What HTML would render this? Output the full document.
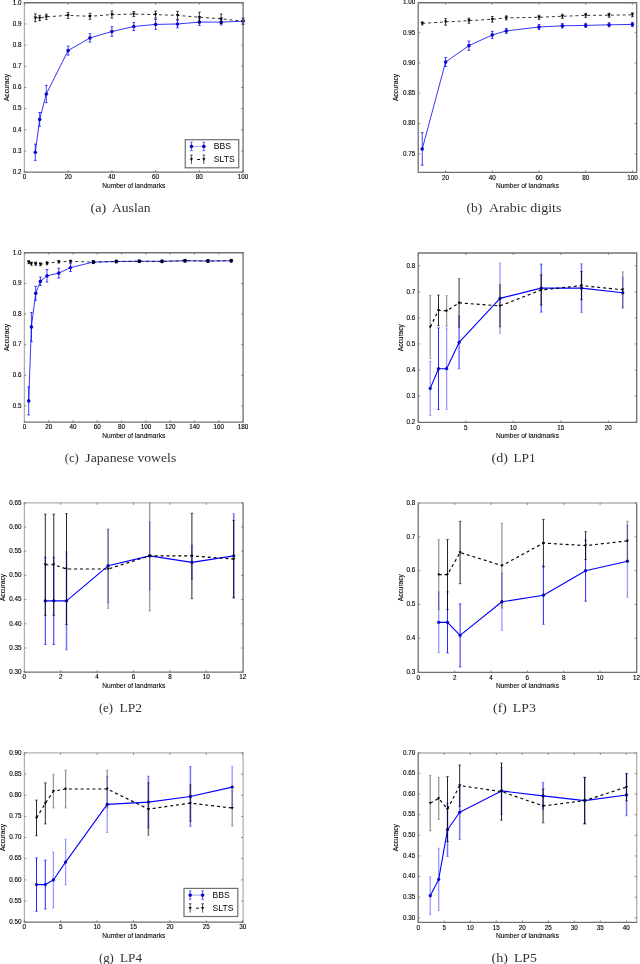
<!DOCTYPE html>
<html><head><meta charset="utf-8"><title>Figure</title>
<style>
html,body{margin:0;padding:0;background:#fff;width:640px;height:964px;overflow:hidden}
svg{display:block}
svg{will-change:transform}
.tk{font-family:"Liberation Sans",sans-serif;font-size:6.3px;fill:#000;stroke:#000;stroke-width:0.12px}
.al{font-family:"Liberation Sans",sans-serif;font-size:6.6px;fill:#000;stroke:#000;stroke-width:0.08px}
.lg{font-family:"Liberation Sans",sans-serif;font-size:8.6px;fill:#000}
.cap{font-family:"Liberation Serif",serif;font-size:13px;fill:#333}
</style></head><body>
<svg width="640" height="964" viewBox="0 0 640 964">
<rect width="640" height="964" fill="#fff"/>
<g>
<clipPath id="clipa"><rect x="20.4" y="2.25" width="226.7" height="170.45"/></clipPath>
<g clip-path="url(#clipa)">
<path d="M35.3 144.15V160.35M34 144.15H36.6M34 160.35H36.6M39.7 112.5V126.3M38.4 112.5H41M38.4 126.3H41M46.3 85.4V102.6M45 85.4H47.6M45 102.6H47.6M68.1 46.1V55.1M66.8 46.1H69.4M66.8 55.1H69.4M90 33.7V42.1M88.7 33.7H91.3M88.7 42.1H91.3M111.9 26.7V36.3M110.6 26.7H113.2M110.6 36.3H113.2M133.8 22.5V30.5M132.5 22.5H135.1M132.5 30.5H135.1M155.6 19.5V29.3M154.3 19.5H156.9M154.3 29.3H156.9M177.5 20.25V27.75M176.2 20.25H178.8M176.2 27.75H178.8M199.4 18.8V25.4M198.1 18.8H200.7M198.1 25.4H200.7M221.2 19.3V24.9M219.9 19.3H222.5M219.9 24.9H222.5M243.1 17.9V24.5M241.8 17.9H244.4M241.8 24.5H244.4" stroke="#0000ff" stroke-width="0.75" fill="none"/>
<polyline points="35.3,152.25 39.7,119.4 46.3,94 68.1,50.6 90,37.9 111.9,31.5 133.8,26.5 155.6,24.4 177.5,24 199.4,22.1 221.2,22.1 243.1,21.2" stroke="#0000ff" stroke-width="0.8" fill="none" stroke-linejoin="round"/>
<circle cx="35.3" cy="152.25" r="1.6" fill="#0000ff" stroke="#000" stroke-width="0.3"/>
<circle cx="39.7" cy="119.4" r="1.6" fill="#0000ff" stroke="#000" stroke-width="0.3"/>
<circle cx="46.3" cy="94" r="1.6" fill="#0000ff" stroke="#000" stroke-width="0.3"/>
<circle cx="68.1" cy="50.6" r="1.6" fill="#0000ff" stroke="#000" stroke-width="0.3"/>
<circle cx="90" cy="37.9" r="1.6" fill="#0000ff" stroke="#000" stroke-width="0.3"/>
<circle cx="111.9" cy="31.5" r="1.6" fill="#0000ff" stroke="#000" stroke-width="0.3"/>
<circle cx="133.8" cy="26.5" r="1.6" fill="#0000ff" stroke="#000" stroke-width="0.3"/>
<circle cx="155.6" cy="24.4" r="1.6" fill="#0000ff" stroke="#000" stroke-width="0.3"/>
<circle cx="177.5" cy="24" r="1.6" fill="#0000ff" stroke="#000" stroke-width="0.3"/>
<circle cx="199.4" cy="22.1" r="1.6" fill="#0000ff" stroke="#000" stroke-width="0.3"/>
<circle cx="221.2" cy="22.1" r="1.6" fill="#0000ff" stroke="#000" stroke-width="0.3"/>
<circle cx="243.1" cy="21.2" r="1.6" fill="#0000ff" stroke="#000" stroke-width="0.3"/>
<path d="M35.3 13.9V21.7M34 13.9H36.6M34 21.7H36.6M39.7 15.3V20.7M38.4 15.3H41M38.4 20.7H41M46.3 14.2V19.4M45 14.2H47.6M45 19.4H47.6M68.1 12.4V18.4M66.8 12.4H69.4M66.8 18.4H69.4M90 13.3V19.3M88.7 13.3H91.3M88.7 19.3H91.3M111.9 11.1V18.1M110.6 11.1H113.2M110.6 18.1H113.2M133.8 11.6V16.6M132.5 11.6H135.1M132.5 16.6H135.1M155.6 11.1V18.1M154.3 11.1H156.9M154.3 18.1H156.9M177.5 11.4V19.4M176.2 11.4H178.8M176.2 19.4H178.8M199.4 12.25V22.25M198.1 12.25H200.7M198.1 22.25H200.7M221.2 14.05V23.45M219.9 14.05H222.5M219.9 23.45H222.5M243.1 18.2V24.2M241.8 18.2H244.4M241.8 24.2H244.4" stroke="#000000" stroke-width="0.75" fill="none"/>
<polyline points="35.3,17.8 39.7,18 46.3,16.8 68.1,15.4 90,16.3 111.9,14.6 133.8,14.1 155.6,14.6 177.5,15.4 199.4,17.25 221.2,18.75 243.1,21.2" stroke="#000000" stroke-width="0.8" fill="none" stroke-dasharray="3 2.9" stroke-linejoin="round"/>
<path d="M33.62 16.46H36.98L35.3 19.48Z" fill="#000000"/>
<path d="M38.02 16.66H41.38L39.7 19.68Z" fill="#000000"/>
<path d="M44.62 15.46H47.98L46.3 18.48Z" fill="#000000"/>
<path d="M66.42 14.06H69.78L68.1 17.08Z" fill="#000000"/>
<path d="M88.32 14.96H91.68L90 17.98Z" fill="#000000"/>
<path d="M110.22 13.26H113.58L111.9 16.28Z" fill="#000000"/>
<path d="M132.12 12.76H135.48L133.8 15.78Z" fill="#000000"/>
<path d="M153.92 13.26H157.28L155.6 16.28Z" fill="#000000"/>
<path d="M175.82 14.06H179.18L177.5 17.08Z" fill="#000000"/>
<path d="M197.72 15.91H201.08L199.4 18.93Z" fill="#000000"/>
<path d="M219.52 17.41H222.88L221.2 20.43Z" fill="#000000"/>
<path d="M241.42 19.86H244.78L243.1 22.88Z" fill="#000000"/>
</g>
<path d="M23.75 2.75H243.75" stroke="#707070" stroke-width="1.3" opacity="1"/>
<path d="M24.4 3.4V171.55" stroke="#707070" stroke-width="1.3" opacity="0.55"/>
<path d="M243.1 3.4V171.55" stroke="#707070" stroke-width="1.3" opacity="1"/>
<path d="M23.75 172.2H243.75" stroke="#707070" stroke-width="1.3" opacity="1"/>
<path d="M24.4 172.2v-2M24.4 2.75v2M68.14 172.2v-2M68.14 2.75v2M111.88 172.2v-2M111.88 2.75v2M155.62 172.2v-2M155.62 2.75v2M199.36 172.2v-2M199.36 2.75v2M243.1 172.2v-2M243.1 2.75v2M24.4 172.2h2M243.1 172.2h-2M24.4 151.02h2M243.1 151.02h-2M24.4 129.84h2M243.1 129.84h-2M24.4 108.66h2M243.1 108.66h-2M24.4 87.48h2M243.1 87.48h-2M24.4 66.3h2M243.1 66.3h-2M24.4 45.12h2M243.1 45.12h-2M24.4 23.94h2M243.1 23.94h-2M24.4 2.76h2M243.1 2.76h-2" stroke="#707070" stroke-width="0.8" fill="none"/>
<text x="24.4" y="179.4" class="tk" text-anchor="middle">0</text>
<text x="68.14" y="179.4" class="tk" text-anchor="middle">20</text>
<text x="111.88" y="179.4" class="tk" text-anchor="middle">40</text>
<text x="155.62" y="179.4" class="tk" text-anchor="middle">60</text>
<text x="199.36" y="179.4" class="tk" text-anchor="middle">80</text>
<text x="243.1" y="179.4" class="tk" text-anchor="middle">100</text>
<text x="21.9" y="174" class="tk" text-anchor="end" dx="-0.4">0.2</text>
<text x="21.9" y="152.82" class="tk" text-anchor="end" dx="-0.4">0.3</text>
<text x="21.9" y="131.64" class="tk" text-anchor="end" dx="-0.4">0.4</text>
<text x="21.9" y="110.46" class="tk" text-anchor="end" dx="-0.4">0.5</text>
<text x="21.9" y="89.28" class="tk" text-anchor="end" dx="-0.4">0.6</text>
<text x="21.9" y="68.1" class="tk" text-anchor="end" dx="-0.4">0.7</text>
<text x="21.9" y="46.92" class="tk" text-anchor="end" dx="-0.4">0.8</text>
<text x="21.9" y="25.74" class="tk" text-anchor="end" dx="-0.4">0.9</text>
<text x="21.9" y="4.56" class="tk" text-anchor="end" dx="-0.4">1.0</text>
<text x="133.75" y="187.5" class="al" text-anchor="middle">Number of landmarks</text>
<text transform="translate(8.8,87.47) rotate(-90)" x="0" y="0" class="al" text-anchor="middle">Accuracy</text>
<rect x="185.25" y="139.7" width="53.5" height="28.1" fill="#fff" stroke="#707070" stroke-width="1.2"/>
<path d="M191.45 146.4H203.85" stroke="#0000ff" stroke-width="0.8" opacity="0.45"/>
<path d="M197.25 159.5H200.05" stroke="#000" stroke-width="1"/>
<path d="M191.45 142.2V150.6M190.15 142.2H192.75M190.15 150.6H192.75" stroke="#0000ff" stroke-width="0.9" opacity="0.7"/>
<circle cx="191.45" cy="146.4" r="1.6" fill="#0000ff" stroke="#000" stroke-width="0.3"/>
<path d="M191.45 155.1V163.9M190.15 155.1H192.75" stroke="#000" stroke-width="0.9" opacity="0.75"/>
<path d="M189.85 158.2H193.05L191.45 161.1Z" fill="#000"/>
<path d="M203.85 142.2V150.6M202.55 142.2H205.15M202.55 150.6H205.15" stroke="#0000ff" stroke-width="0.9" opacity="0.7"/>
<circle cx="203.85" cy="146.4" r="1.6" fill="#0000ff" stroke="#000" stroke-width="0.3"/>
<path d="M203.85 155.1V163.9M202.55 155.1H205.15" stroke="#000" stroke-width="0.9" opacity="0.75"/>
<path d="M202.25 158.2H205.45L203.85 161.1Z" fill="#000"/>
<text x="213.85" y="149" class="lg">BBS</text>
<text x="213.85" y="162.4" class="lg">SLTS</text>
</g>
<text x="90.6" y="211.8" class="cap" textLength="15.65" lengthAdjust="spacingAndGlyphs">(a)</text>
<text x="111.9" y="211.8" class="cap" textLength="38.7" lengthAdjust="spacingAndGlyphs">Auslan</text>
<g>
<clipPath id="clipb"><rect x="414.2" y="2.25" width="226.5" height="170.55"/></clipPath>
<g clip-path="url(#clipb)">
<path d="M422.25 132.65V165.15M420.95 132.65H423.55M420.95 165.15H423.55M445.6 57.5V66.5M444.3 57.5H446.9M444.3 66.5H446.9M468.95 41.1V50.3M467.65 41.1H470.25M467.65 50.3H470.25M492.3 31.4V38.4M491 31.4H493.6M491 38.4H493.6M506.31 28.4V33.4M505.01 28.4H507.61M505.01 33.4H507.61M539 24.5V29.5M537.7 24.5H540.3M537.7 29.5H540.3M562.35 23.6V28M561.05 23.6H563.65M561.05 28H563.65M585.7 23.4V27.4M584.4 23.4H587M584.4 27.4H587M609.05 22.8V26.8M607.75 22.8H610.35M607.75 26.8H610.35M632.4 22.4V26.4M631.1 22.4H633.7M631.1 26.4H633.7" stroke="#0000ff" stroke-width="0.75" fill="none"/>
<polyline points="422.25,148.9 445.6,62 468.95,45.7 492.3,34.9 506.31,30.9 539,27 562.35,25.8 585.7,25.4 609.05,24.8 632.4,24.4" stroke="#0000ff" stroke-width="0.8" fill="none" stroke-linejoin="round"/>
<circle cx="422.25" cy="148.9" r="1.6" fill="#0000ff" stroke="#000" stroke-width="0.3"/>
<circle cx="445.6" cy="62" r="1.6" fill="#0000ff" stroke="#000" stroke-width="0.3"/>
<circle cx="468.95" cy="45.7" r="1.6" fill="#0000ff" stroke="#000" stroke-width="0.3"/>
<circle cx="492.3" cy="34.9" r="1.6" fill="#0000ff" stroke="#000" stroke-width="0.3"/>
<circle cx="506.31" cy="30.9" r="1.6" fill="#0000ff" stroke="#000" stroke-width="0.3"/>
<circle cx="539" cy="27" r="1.6" fill="#0000ff" stroke="#000" stroke-width="0.3"/>
<circle cx="562.35" cy="25.8" r="1.6" fill="#0000ff" stroke="#000" stroke-width="0.3"/>
<circle cx="585.7" cy="25.4" r="1.6" fill="#0000ff" stroke="#000" stroke-width="0.3"/>
<circle cx="609.05" cy="24.8" r="1.6" fill="#0000ff" stroke="#000" stroke-width="0.3"/>
<circle cx="632.4" cy="24.4" r="1.6" fill="#0000ff" stroke="#000" stroke-width="0.3"/>
<path d="M422.25 21.9V24.9M420.95 21.9H423.55M420.95 24.9H423.55M445.6 18.6V25.2M444.3 18.6H446.9M444.3 25.2H446.9M468.95 18.2V23.2M467.65 18.2H470.25M467.65 23.2H470.25M492.3 16.5V22.1M491 16.5H493.6M491 22.1H493.6M506.31 15.9V19.9M505.01 15.9H507.61M505.01 19.9H507.61M539 15.3V19.3M537.7 15.3H540.3M537.7 19.3H540.3M562.35 14.25V18.25M561.05 14.25H563.65M561.05 18.25H563.65M585.7 13.4V17.4M584.4 13.4H587M584.4 17.4H587M609.05 13.2V17.2M607.75 13.2H610.35M607.75 17.2H610.35M632.4 12.8V16.8M631.1 12.8H633.7M631.1 16.8H633.7" stroke="#000000" stroke-width="0.75" fill="none"/>
<polyline points="422.25,23.4 445.6,21.9 468.95,20.7 492.3,19.3 506.31,17.9 539,17.3 562.35,16.25 585.7,15.4 609.05,15.2 632.4,14.8" stroke="#000000" stroke-width="0.8" fill="none" stroke-dasharray="3 2.9" stroke-linejoin="round"/>
<path d="M420.57 22.06H423.93L422.25 25.08Z" fill="#000000"/>
<path d="M443.92 20.56H447.28L445.6 23.58Z" fill="#000000"/>
<path d="M467.27 19.36H470.63L468.95 22.38Z" fill="#000000"/>
<path d="M490.62 17.96H493.98L492.3 20.98Z" fill="#000000"/>
<path d="M504.63 16.56H507.99L506.31 19.58Z" fill="#000000"/>
<path d="M537.32 15.96H540.68L539 18.98Z" fill="#000000"/>
<path d="M560.67 14.91H564.03L562.35 17.93Z" fill="#000000"/>
<path d="M584.02 14.06H587.38L585.7 17.08Z" fill="#000000"/>
<path d="M607.37 13.86H610.73L609.05 16.88Z" fill="#000000"/>
<path d="M630.72 13.46H634.08L632.4 16.48Z" fill="#000000"/>
</g>
<path d="M417.55 2.75H637.35" stroke="#707070" stroke-width="1.3" opacity="1"/>
<path d="M418.2 3.4V171.65" stroke="#707070" stroke-width="1.3" opacity="1"/>
<path d="M636.7 3.4V171.65" stroke="#707070" stroke-width="1.3" opacity="1"/>
<path d="M417.55 172.3H637.35" stroke="#707070" stroke-width="1.3" opacity="1"/>
<path d="M445.6 172.3v-2M445.6 2.75v2M492.3 172.3v-2M492.3 2.75v2M539 172.3v-2M539 2.75v2M585.7 172.3v-2M585.7 2.75v2M632.4 172.3v-2M632.4 2.75v2M418.2 153.8h2M636.7 153.8h-2M418.2 123.53h2M636.7 123.53h-2M418.2 93.26h2M636.7 93.26h-2M418.2 62.99h2M636.7 62.99h-2M418.2 32.72h2M636.7 32.72h-2M418.2 2.45h2M636.7 2.45h-2" stroke="#707070" stroke-width="0.8" fill="none"/>
<text x="445.6" y="179.5" class="tk" text-anchor="middle">20</text>
<text x="492.3" y="179.5" class="tk" text-anchor="middle">40</text>
<text x="539" y="179.5" class="tk" text-anchor="middle">60</text>
<text x="585.7" y="179.5" class="tk" text-anchor="middle">80</text>
<text x="632.4" y="179.5" class="tk" text-anchor="middle">100</text>
<text x="415.7" y="155.6" class="tk" text-anchor="end" dx="-0.4">0.75</text>
<text x="415.7" y="125.33" class="tk" text-anchor="end" dx="-0.4">0.80</text>
<text x="415.7" y="95.06" class="tk" text-anchor="end" dx="-0.4">0.85</text>
<text x="415.7" y="64.79" class="tk" text-anchor="end" dx="-0.4">0.90</text>
<text x="415.7" y="34.52" class="tk" text-anchor="end" dx="-0.4">0.95</text>
<text x="415.7" y="4.25" class="tk" text-anchor="end" dx="-0.4">1.00</text>
<text x="527.45" y="187.6" class="al" text-anchor="middle">Number of landmarks</text>
<text transform="translate(398.4,87.53) rotate(-90)" x="0" y="0" class="al" text-anchor="middle">Accuracy</text>
</g>
<text x="466.5" y="211.8" class="cap" textLength="15.8" lengthAdjust="spacingAndGlyphs">(b)</text>
<text x="488.9" y="211.8" class="cap" textLength="72.5" lengthAdjust="spacingAndGlyphs">Arabic digits</text>
<g>
<clipPath id="clipc"><rect x="20.4" y="252.25" width="226.7" height="170.45"/></clipPath>
<g clip-path="url(#clipc)">
<path d="M28.7 386.9V414.9M27.4 386.9H30M27.4 414.9H30M31.4 312.4V341.4M30.1 312.4H32.7M30.1 341.4H32.7M35.7 286.3V300.3M34.4 286.3H37M34.4 300.3H37M40.4 277.1V285.5M39.1 277.1H41.7M39.1 285.5H41.7M47 269.55V282.05M45.7 269.55H48.3M45.7 282.05H48.3M58.8 268.2V278M57.5 268.2H60.1M57.5 278H60.1M70.5 263.7V271.5M69.2 263.7H71.8M69.2 271.5H71.8M93.3 260.6V263.6M92 260.6H94.6M92 263.6H94.6M116.25 260.3V262.7M114.95 260.3H117.55M114.95 262.7H117.55M139.25 260.05V262.45M137.95 260.05H140.55M137.95 262.45H140.55M162 260.05V262.45M160.7 260.05H163.3M160.7 262.45H163.3M185 259.55V261.95M183.7 259.55H186.3M183.7 261.95H186.3M208 259.8V262.2M206.7 259.8H209.3M206.7 262.2H209.3M231.25 259.55V261.95M229.95 259.55H232.55M229.95 261.95H232.55" stroke="#0000ff" stroke-width="0.75" fill="none"/>
<polyline points="28.7,400.9 31.4,326.9 35.7,293.3 40.4,281.3 47,275.8 58.8,273.1 70.5,267.6 93.3,262.1 116.25,261.5 139.25,261.25 162,261.25 185,260.75 208,261 231.25,260.75" stroke="#0000ff" stroke-width="0.8" fill="none" stroke-linejoin="round"/>
<circle cx="28.7" cy="400.9" r="1.6" fill="#0000ff" stroke="#000" stroke-width="0.3"/>
<circle cx="31.4" cy="326.9" r="1.6" fill="#0000ff" stroke="#000" stroke-width="0.3"/>
<circle cx="35.7" cy="293.3" r="1.6" fill="#0000ff" stroke="#000" stroke-width="0.3"/>
<circle cx="40.4" cy="281.3" r="1.6" fill="#0000ff" stroke="#000" stroke-width="0.3"/>
<circle cx="47" cy="275.8" r="1.6" fill="#0000ff" stroke="#000" stroke-width="0.3"/>
<circle cx="58.8" cy="273.1" r="1.6" fill="#0000ff" stroke="#000" stroke-width="0.3"/>
<circle cx="70.5" cy="267.6" r="1.6" fill="#0000ff" stroke="#000" stroke-width="0.3"/>
<circle cx="93.3" cy="262.1" r="1.6" fill="#0000ff" stroke="#000" stroke-width="0.3"/>
<circle cx="116.25" cy="261.5" r="1.6" fill="#0000ff" stroke="#000" stroke-width="0.3"/>
<circle cx="139.25" cy="261.25" r="1.6" fill="#0000ff" stroke="#000" stroke-width="0.3"/>
<circle cx="162" cy="261.25" r="1.6" fill="#0000ff" stroke="#000" stroke-width="0.3"/>
<circle cx="185" cy="260.75" r="1.6" fill="#0000ff" stroke="#000" stroke-width="0.3"/>
<circle cx="208" cy="261" r="1.6" fill="#0000ff" stroke="#000" stroke-width="0.3"/>
<circle cx="231.25" cy="260.75" r="1.6" fill="#0000ff" stroke="#000" stroke-width="0.3"/>
<path d="M28.7 260.7V263.7M27.4 260.7H30M27.4 263.7H30M31.4 262.2V265.2M30.1 262.2H32.7M30.1 265.2H32.7M35.7 262.2V265.2M34.4 262.2H37M34.4 265.2H37M40.4 262.8V265.8M39.1 262.8H41.7M39.1 265.8H41.7M47 261.8V264.8M45.7 261.8H48.3M45.7 264.8H48.3M58.8 260.6V263M57.5 260.6H60.1M57.5 263H60.1M70.5 260.2V262.6M69.2 260.2H71.8M69.2 262.6H71.8M93.3 260.9V263.3M92 260.9H94.6M92 263.3H94.6M116.25 260.3V262.7M114.95 260.3H117.55M114.95 262.7H117.55M139.25 260.05V262.45M137.95 260.05H140.55M137.95 262.45H140.55M162 260.3V262.7M160.7 260.3H163.3M160.7 262.7H163.3M185 259.55V261.95M183.7 259.55H186.3M183.7 261.95H186.3M208 259.8V262.2M206.7 259.8H209.3M206.7 262.2H209.3M231.25 259.55V261.95M229.95 259.55H232.55M229.95 261.95H232.55" stroke="#000000" stroke-width="0.75" fill="none"/>
<polyline points="28.7,262.2 31.4,263.7 35.7,263.7 40.4,264.3 47,263.3 58.8,261.8 70.5,261.4 93.3,262.1 116.25,261.5 139.25,261.25 162,261.5 185,260.75 208,261 231.25,260.75" stroke="#000000" stroke-width="0.8" fill="none" stroke-dasharray="3 2.9" stroke-linejoin="round"/>
<path d="M27.02 260.86H30.38L28.7 263.88Z" fill="#000000"/>
<path d="M29.72 262.36H33.08L31.4 265.38Z" fill="#000000"/>
<path d="M34.02 262.36H37.38L35.7 265.38Z" fill="#000000"/>
<path d="M38.72 262.96H42.08L40.4 265.98Z" fill="#000000"/>
<path d="M45.32 261.96H48.68L47 264.98Z" fill="#000000"/>
<path d="M57.12 260.46H60.48L58.8 263.48Z" fill="#000000"/>
<path d="M68.82 260.06H72.18L70.5 263.08Z" fill="#000000"/>
<path d="M91.62 260.76H94.98L93.3 263.78Z" fill="#000000"/>
<path d="M114.57 260.16H117.93L116.25 263.18Z" fill="#000000"/>
<path d="M137.57 259.91H140.93L139.25 262.93Z" fill="#000000"/>
<path d="M160.32 260.16H163.68L162 263.18Z" fill="#000000"/>
<path d="M183.32 259.41H186.68L185 262.43Z" fill="#000000"/>
<path d="M206.32 259.66H209.68L208 262.68Z" fill="#000000"/>
<path d="M229.57 259.41H232.93L231.25 262.43Z" fill="#000000"/>
</g>
<path d="M23.75 252.75H243.75" stroke="#707070" stroke-width="1.3" opacity="1"/>
<path d="M24.4 253.4V421.55" stroke="#707070" stroke-width="1.3" opacity="0.55"/>
<path d="M243.1 253.4V421.55" stroke="#707070" stroke-width="1.3" opacity="1"/>
<path d="M23.75 422.2H243.75" stroke="#707070" stroke-width="1.3" opacity="1"/>
<path d="M24.4 422.2v-2M24.4 252.75v2M48.7 422.2v-2M48.7 252.75v2M73 422.2v-2M73 252.75v2M97.3 422.2v-2M97.3 252.75v2M121.6 422.2v-2M121.6 252.75v2M145.9 422.2v-2M145.9 252.75v2M170.2 422.2v-2M170.2 252.75v2M194.5 422.2v-2M194.5 252.75v2M218.8 422.2v-2M218.8 252.75v2M243.1 422.2v-2M243.1 252.75v2M24.4 405.9h2M243.1 405.9h-2M24.4 375.28h2M243.1 375.28h-2M24.4 344.66h2M243.1 344.66h-2M24.4 314.04h2M243.1 314.04h-2M24.4 283.42h2M243.1 283.42h-2M24.4 252.8h2M243.1 252.8h-2" stroke="#707070" stroke-width="0.8" fill="none"/>
<text x="24.4" y="429.4" class="tk" text-anchor="middle">0</text>
<text x="48.7" y="429.4" class="tk" text-anchor="middle">20</text>
<text x="73" y="429.4" class="tk" text-anchor="middle">40</text>
<text x="97.3" y="429.4" class="tk" text-anchor="middle">60</text>
<text x="121.6" y="429.4" class="tk" text-anchor="middle">80</text>
<text x="145.9" y="429.4" class="tk" text-anchor="middle">100</text>
<text x="170.2" y="429.4" class="tk" text-anchor="middle">120</text>
<text x="194.5" y="429.4" class="tk" text-anchor="middle">140</text>
<text x="218.8" y="429.4" class="tk" text-anchor="middle">160</text>
<text x="243.1" y="429.4" class="tk" text-anchor="middle">180</text>
<text x="21.9" y="407.7" class="tk" text-anchor="end" dx="-0.4">0.5</text>
<text x="21.9" y="377.08" class="tk" text-anchor="end" dx="-0.4">0.6</text>
<text x="21.9" y="346.46" class="tk" text-anchor="end" dx="-0.4">0.7</text>
<text x="21.9" y="315.84" class="tk" text-anchor="end" dx="-0.4">0.8</text>
<text x="21.9" y="285.22" class="tk" text-anchor="end" dx="-0.4">0.9</text>
<text x="21.9" y="254.6" class="tk" text-anchor="end" dx="-0.4">1.0</text>
<text x="133.75" y="437.5" class="al" text-anchor="middle">Number of landmarks</text>
<text transform="translate(8.8,337.48) rotate(-90)" x="0" y="0" class="al" text-anchor="middle">Accuracy</text>
</g>
<text x="64.7" y="461.8" class="cap" textLength="14.05" lengthAdjust="spacingAndGlyphs">(c)</text>
<text x="85.3" y="461.8" class="cap" textLength="90.95" lengthAdjust="spacingAndGlyphs">Japanese vowels</text>
<g>
<clipPath id="clipd"><rect x="414.2" y="252.5" width="226.5" height="170.4"/></clipPath>
<g clip-path="url(#clipd)">
<path d="M430.25 361.3V415.5" stroke="#0000ff" stroke-width="1.3" opacity="0.4" fill="none"/>
<path d="M428.85 361.3H431.65M428.85 415.5H431.65" stroke="#0000ff" stroke-width="0.75" opacity="0.3" fill="none"/>
<path d="M438.5 327.9V409.5" stroke="#0000ff" stroke-width="0.85" opacity="1.0" fill="none"/>
<path d="M437.1 327.9H439.9M437.1 409.5H439.9" stroke="#0000ff" stroke-width="0.75" opacity="0.75" fill="none"/>
<path d="M446.6 327.9V409.5" stroke="#0000ff" stroke-width="1.3" opacity="0.4" fill="none"/>
<path d="M445.2 327.9H448M445.2 409.5H448" stroke="#0000ff" stroke-width="0.75" opacity="0.3" fill="none"/>
<path d="M459.1 315.9V368.9" stroke="#0000ff" stroke-width="1.5" opacity="0.55" fill="none"/>
<path d="M457.7 315.9H460.5M457.7 368.9H460.5" stroke="#0000ff" stroke-width="0.75" opacity="0.41" fill="none"/>
<path d="M500 263.2V333.6" stroke="#0000ff" stroke-width="1.3" opacity="0.4" fill="none"/>
<path d="M498.6 263.2H501.4M498.6 333.6H501.4" stroke="#0000ff" stroke-width="0.75" opacity="0.3" fill="none"/>
<path d="M541.2 264.1V312.1" stroke="#0000ff" stroke-width="0.85" opacity="1.0" fill="none"/>
<path d="M539.8 264.1H542.6M539.8 312.1H542.6" stroke="#0000ff" stroke-width="0.75" opacity="0.75" fill="none"/>
<path d="M581.5 263.7V312.5" stroke="#0000ff" stroke-width="1.5" opacity="0.55" fill="none"/>
<path d="M580.1 263.7H582.9M580.1 312.5H582.9" stroke="#0000ff" stroke-width="0.75" opacity="0.41" fill="none"/>
<path d="M622.75 277.15V308.35" stroke="#0000ff" stroke-width="1.3" opacity="0.4" fill="none"/>
<path d="M621.35 277.15H624.15M621.35 308.35H624.15" stroke="#0000ff" stroke-width="0.75" opacity="0.3" fill="none"/>
<polyline points="430.25,388.4 438.5,368.7 446.6,368.7 459.1,342.4 500,298.4 541.2,288.1 581.5,288.1 622.75,292.75" stroke="#0000ff" stroke-width="1.1" fill="none" stroke-linejoin="round"/>
<circle cx="430.25" cy="388.4" r="1.45" fill="#0000ff" stroke="#000" stroke-width="0.3"/>
<circle cx="438.5" cy="368.7" r="1.45" fill="#0000ff" stroke="#000" stroke-width="0.3"/>
<circle cx="446.6" cy="368.7" r="1.45" fill="#0000ff" stroke="#000" stroke-width="0.3"/>
<circle cx="459.1" cy="342.4" r="1.45" fill="#0000ff" stroke="#000" stroke-width="0.3"/>
<circle cx="500" cy="298.4" r="1.45" fill="#0000ff" stroke="#000" stroke-width="0.3"/>
<circle cx="541.2" cy="288.1" r="1.45" fill="#0000ff" stroke="#000" stroke-width="0.3"/>
<circle cx="581.5" cy="288.1" r="1.45" fill="#0000ff" stroke="#000" stroke-width="0.3"/>
<circle cx="622.75" cy="292.75" r="1.45" fill="#0000ff" stroke="#000" stroke-width="0.3"/>
<path d="M430.25 295.3V358.5" stroke="#000000" stroke-width="1.3" opacity="0.4" fill="none"/>
<path d="M428.85 295.3H431.65M428.85 358.5H431.65" stroke="#000000" stroke-width="0.75" opacity="0.3" fill="none"/>
<path d="M438.5 295.1V325.7" stroke="#000000" stroke-width="0.85" opacity="1.0" fill="none"/>
<path d="M437.1 295.1H439.9M437.1 325.7H439.9" stroke="#000000" stroke-width="0.75" opacity="0.75" fill="none"/>
<path d="M446.6 295.6V326.2" stroke="#000000" stroke-width="1.3" opacity="0.4" fill="none"/>
<path d="M445.2 295.6H448M445.2 326.2H448" stroke="#000000" stroke-width="0.75" opacity="0.3" fill="none"/>
<path d="M459.1 278.5V327.3" stroke="#000000" stroke-width="1.5" opacity="0.55" fill="none"/>
<path d="M457.7 278.5H460.5M457.7 327.3H460.5" stroke="#000000" stroke-width="0.75" opacity="0.41" fill="none"/>
<path d="M500 284.8V327" stroke="#000000" stroke-width="1.5" opacity="0.55" fill="none"/>
<path d="M498.6 284.8H501.4M498.6 327H501.4" stroke="#000000" stroke-width="0.75" opacity="0.41" fill="none"/>
<path d="M541.2 275V305" stroke="#000000" stroke-width="0.85" opacity="1.0" fill="none"/>
<path d="M539.8 275H542.6M539.8 305H542.6" stroke="#000000" stroke-width="0.75" opacity="0.75" fill="none"/>
<path d="M581.5 271.6V299.6" stroke="#000000" stroke-width="0.85" opacity="1.0" fill="none"/>
<path d="M580.1 271.6H582.9M580.1 299.6H582.9" stroke="#000000" stroke-width="0.75" opacity="0.75" fill="none"/>
<path d="M622.75 271.75V307.75" stroke="#000000" stroke-width="1.3" opacity="0.4" fill="none"/>
<path d="M621.35 271.75H624.15M621.35 307.75H624.15" stroke="#000000" stroke-width="0.75" opacity="0.3" fill="none"/>
<polyline points="430.25,326.9 438.5,310.4 446.6,310.9 459.1,302.9 500,305.9 541.2,290 581.5,285.6 622.75,289.75" stroke="#000000" stroke-width="1.15" fill="none" stroke-dasharray="3 2.9" stroke-linejoin="round"/>
<path d="M428.73 325.68H431.77L430.25 328.42Z" fill="#000000"/>
<path d="M436.98 309.18H440.02L438.5 311.92Z" fill="#000000"/>
<path d="M445.08 309.68H448.12L446.6 312.42Z" fill="#000000"/>
<path d="M457.58 301.68H460.62L459.1 304.42Z" fill="#000000"/>
<path d="M498.48 304.68H501.52L500 307.42Z" fill="#000000"/>
<path d="M539.68 288.78H542.72L541.2 291.52Z" fill="#000000"/>
<path d="M579.98 284.38H583.02L581.5 287.12Z" fill="#000000"/>
<path d="M621.23 288.53H624.27L622.75 291.27Z" fill="#000000"/>
</g>
<path d="M417.55 253H637.35" stroke="#707070" stroke-width="1.3" opacity="1"/>
<path d="M418.2 253.65V421.75" stroke="#707070" stroke-width="1.3" opacity="1"/>
<path d="M636.7 253.65V421.75" stroke="#707070" stroke-width="1.3" opacity="1"/>
<path d="M417.55 422.4H637.35" stroke="#707070" stroke-width="1.3" opacity="1"/>
<path d="M418.3 422.4v-2M418.3 253v2M465.8 422.4v-2M465.8 253v2M513.3 422.4v-2M513.3 253v2M560.8 422.4v-2M560.8 253v2M608.3 422.4v-2M608.3 253v2M418.2 422.2h2M636.7 422.2h-2M418.2 396.12h2M636.7 396.12h-2M418.2 370.04h2M636.7 370.04h-2M418.2 343.96h2M636.7 343.96h-2M418.2 317.88h2M636.7 317.88h-2M418.2 291.8h2M636.7 291.8h-2M418.2 265.72h2M636.7 265.72h-2" stroke="#707070" stroke-width="0.8" fill="none"/>
<text x="418.3" y="429.6" class="tk" text-anchor="middle">0</text>
<text x="465.8" y="429.6" class="tk" text-anchor="middle">5</text>
<text x="513.3" y="429.6" class="tk" text-anchor="middle">10</text>
<text x="560.8" y="429.6" class="tk" text-anchor="middle">15</text>
<text x="608.3" y="429.6" class="tk" text-anchor="middle">20</text>
<text x="415.7" y="424" class="tk" text-anchor="end" dx="-0.4">0.2</text>
<text x="415.7" y="397.92" class="tk" text-anchor="end" dx="-0.4">0.3</text>
<text x="415.7" y="371.84" class="tk" text-anchor="end" dx="-0.4">0.4</text>
<text x="415.7" y="345.76" class="tk" text-anchor="end" dx="-0.4">0.5</text>
<text x="415.7" y="319.68" class="tk" text-anchor="end" dx="-0.4">0.6</text>
<text x="415.7" y="293.6" class="tk" text-anchor="end" dx="-0.4">0.7</text>
<text x="415.7" y="267.52" class="tk" text-anchor="end" dx="-0.4">0.8</text>
<text x="527.45" y="437.7" class="al" text-anchor="middle">Number of landmarks</text>
<text transform="translate(402.6,337.7) rotate(-90)" x="0" y="0" class="al" text-anchor="middle">Accuracy</text>
</g>
<text x="491.5" y="461.8" class="cap" textLength="16.4" lengthAdjust="spacingAndGlyphs">(d)</text>
<text x="513.4" y="461.8" class="cap" textLength="22.4" lengthAdjust="spacingAndGlyphs">LP1</text>
<g>
<clipPath id="clipe"><rect x="20.4" y="502.3" width="226.7" height="170.4"/></clipPath>
<g clip-path="url(#clipe)">
<path d="M45.3 557.3V644.5" stroke="#0000ff" stroke-width="0.85" opacity="1.0" fill="none"/>
<path d="M43.9 557.3H46.7M43.9 644.5H46.7" stroke="#0000ff" stroke-width="0.75" opacity="0.75" fill="none"/>
<path d="M53.75 557.3V644.5" stroke="#0000ff" stroke-width="0.85" opacity="1.0" fill="none"/>
<path d="M52.35 557.3H55.15M52.35 644.5H55.15" stroke="#0000ff" stroke-width="0.75" opacity="0.75" fill="none"/>
<path d="M66.5 551.9V649.9" stroke="#0000ff" stroke-width="1.5" opacity="0.55" fill="none"/>
<path d="M65.1 551.9H67.9M65.1 649.9H67.9" stroke="#0000ff" stroke-width="0.75" opacity="0.41" fill="none"/>
<path d="M108.1 528.8V602.8" stroke="#0000ff" stroke-width="1.3" opacity="0.4" fill="none"/>
<path d="M106.7 528.8H109.5M106.7 602.8H109.5" stroke="#0000ff" stroke-width="0.75" opacity="0.3" fill="none"/>
<path d="M149.7 522.3V589.5" stroke="#0000ff" stroke-width="1.3" opacity="0.4" fill="none"/>
<path d="M148.3 522.3H151.1M148.3 589.5H151.1" stroke="#0000ff" stroke-width="0.75" opacity="0.3" fill="none"/>
<path d="M191.9 545.4V579.4" stroke="#0000ff" stroke-width="1.5" opacity="0.55" fill="none"/>
<path d="M190.5 545.4H193.3M190.5 579.4H193.3" stroke="#0000ff" stroke-width="0.75" opacity="0.41" fill="none"/>
<path d="M233.7 513.7V598.1" stroke="#0000ff" stroke-width="1.5" opacity="0.55" fill="none"/>
<path d="M232.3 513.7H235.1M232.3 598.1H235.1" stroke="#0000ff" stroke-width="0.75" opacity="0.41" fill="none"/>
<polyline points="45.3,600.9 53.75,600.9 66.5,600.9 108.1,565.8 149.7,555.9 191.9,562.4 233.7,555.9" stroke="#0000ff" stroke-width="1.1" fill="none" stroke-linejoin="round"/>
<circle cx="45.3" cy="600.9" r="1.45" fill="#0000ff" stroke="#000" stroke-width="0.3"/>
<circle cx="53.75" cy="600.9" r="1.45" fill="#0000ff" stroke="#000" stroke-width="0.3"/>
<circle cx="66.5" cy="600.9" r="1.45" fill="#0000ff" stroke="#000" stroke-width="0.3"/>
<circle cx="108.1" cy="565.8" r="1.45" fill="#0000ff" stroke="#000" stroke-width="0.3"/>
<circle cx="149.7" cy="555.9" r="1.45" fill="#0000ff" stroke="#000" stroke-width="0.3"/>
<circle cx="191.9" cy="562.4" r="1.45" fill="#0000ff" stroke="#000" stroke-width="0.3"/>
<circle cx="233.7" cy="555.9" r="1.45" fill="#0000ff" stroke="#000" stroke-width="0.3"/>
<path d="M45.3 514.1V615.3" stroke="#000000" stroke-width="0.85" opacity="1.0" fill="none"/>
<path d="M43.9 514.1H46.7M43.9 615.3H46.7" stroke="#000000" stroke-width="0.75" opacity="0.75" fill="none"/>
<path d="M53.75 514.1V615.3" stroke="#000000" stroke-width="0.85" opacity="1.0" fill="none"/>
<path d="M52.35 514.1H55.15M52.35 615.3H55.15" stroke="#000000" stroke-width="0.75" opacity="0.75" fill="none"/>
<path d="M66.5 513.6V624.4" stroke="#000000" stroke-width="0.85" opacity="1.0" fill="none"/>
<path d="M65.1 513.6H67.9M65.1 624.4H67.9" stroke="#000000" stroke-width="0.75" opacity="0.75" fill="none"/>
<path d="M108.1 529.6V608.4" stroke="#000000" stroke-width="1.3" opacity="0.4" fill="none"/>
<path d="M106.7 529.6H109.5M106.7 608.4H109.5" stroke="#000000" stroke-width="0.75" opacity="0.3" fill="none"/>
<path d="M149.7 500.9V610.9" stroke="#000000" stroke-width="1.3" opacity="0.4" fill="none"/>
<path d="M148.3 500.9H151.1M148.3 610.9H151.1" stroke="#000000" stroke-width="0.75" opacity="0.3" fill="none"/>
<path d="M191.9 513.2V598.6" stroke="#000000" stroke-width="0.85" opacity="1.0" fill="none"/>
<path d="M190.5 513.2H193.3M190.5 598.6H193.3" stroke="#000000" stroke-width="0.75" opacity="0.75" fill="none"/>
<path d="M233.7 520.4V597.8" stroke="#000000" stroke-width="0.85" opacity="1.0" fill="none"/>
<path d="M232.3 520.4H235.1M232.3 597.8H235.1" stroke="#000000" stroke-width="0.75" opacity="0.75" fill="none"/>
<polyline points="45.3,564.7 53.75,564.7 66.5,569 108.1,569 149.7,555.9 191.9,555.9 233.7,559.1" stroke="#000000" stroke-width="1.15" fill="none" stroke-dasharray="3 2.9" stroke-linejoin="round"/>
<path d="M43.78 563.48H46.82L45.3 566.22Z" fill="#000000"/>
<path d="M52.23 563.48H55.27L53.75 566.22Z" fill="#000000"/>
<path d="M64.98 567.78H68.02L66.5 570.52Z" fill="#000000"/>
<path d="M106.58 567.78H109.62L108.1 570.52Z" fill="#000000"/>
<path d="M148.18 554.68H151.22L149.7 557.42Z" fill="#000000"/>
<path d="M190.38 554.68H193.42L191.9 557.42Z" fill="#000000"/>
<path d="M232.18 557.88H235.22L233.7 560.62Z" fill="#000000"/>
</g>
<path d="M23.75 502.8H243.75" stroke="#707070" stroke-width="1.3" opacity="0.55"/>
<path d="M24.4 503.45V671.55" stroke="#707070" stroke-width="1.3" opacity="0.55"/>
<path d="M243.1 503.45V671.55" stroke="#707070" stroke-width="1.3" opacity="1"/>
<path d="M23.75 672.2H243.75" stroke="#707070" stroke-width="1.3" opacity="1"/>
<path d="M24.3 672.2v-2M24.3 502.8v2M60.7 672.2v-2M60.7 502.8v2M97.1 672.2v-2M97.1 502.8v2M133.5 672.2v-2M133.5 502.8v2M169.9 672.2v-2M169.9 502.8v2M206.3 672.2v-2M206.3 502.8v2M242.7 672.2v-2M242.7 502.8v2M24.4 672.2h2M243.1 672.2h-2M24.4 648h2M243.1 648h-2M24.4 623.8h2M243.1 623.8h-2M24.4 599.6h2M243.1 599.6h-2M24.4 575.4h2M243.1 575.4h-2M24.4 551.2h2M243.1 551.2h-2M24.4 527h2M243.1 527h-2M24.4 502.8h2M243.1 502.8h-2" stroke="#707070" stroke-width="0.8" fill="none"/>
<text x="24.3" y="679.4" class="tk" text-anchor="middle">0</text>
<text x="60.7" y="679.4" class="tk" text-anchor="middle">2</text>
<text x="97.1" y="679.4" class="tk" text-anchor="middle">4</text>
<text x="133.5" y="679.4" class="tk" text-anchor="middle">6</text>
<text x="169.9" y="679.4" class="tk" text-anchor="middle">8</text>
<text x="206.3" y="679.4" class="tk" text-anchor="middle">10</text>
<text x="242.7" y="679.4" class="tk" text-anchor="middle">12</text>
<text x="21.9" y="674" class="tk" text-anchor="end" dx="-0.4">0.30</text>
<text x="21.9" y="649.8" class="tk" text-anchor="end" dx="-0.4">0.35</text>
<text x="21.9" y="625.6" class="tk" text-anchor="end" dx="-0.4">0.40</text>
<text x="21.9" y="601.4" class="tk" text-anchor="end" dx="-0.4">0.45</text>
<text x="21.9" y="577.2" class="tk" text-anchor="end" dx="-0.4">0.50</text>
<text x="21.9" y="553" class="tk" text-anchor="end" dx="-0.4">0.55</text>
<text x="21.9" y="528.8" class="tk" text-anchor="end" dx="-0.4">0.60</text>
<text x="21.9" y="504.6" class="tk" text-anchor="end" dx="-0.4">0.65</text>
<text x="133.75" y="687.5" class="al" text-anchor="middle">Number of landmarks</text>
<text transform="translate(4.6,587.5) rotate(-90)" x="0" y="0" class="al" text-anchor="middle">Accuracy</text>
</g>
<text x="98.9" y="711.8" class="cap" textLength="14.1" lengthAdjust="spacingAndGlyphs">(e)</text>
<text x="119.5" y="711.8" class="cap" textLength="22.5" lengthAdjust="spacingAndGlyphs">LP2</text>
<g>
<clipPath id="clipf"><rect x="414.2" y="502.5" width="226.5" height="170.4"/></clipPath>
<g clip-path="url(#clipf)">
<path d="M438.7 591.9V652.9" stroke="#0000ff" stroke-width="1.3" opacity="0.4" fill="none"/>
<path d="M437.3 591.9H440.1M437.3 652.9H440.1" stroke="#0000ff" stroke-width="0.75" opacity="0.3" fill="none"/>
<path d="M447.5 591.9V652.9" stroke="#0000ff" stroke-width="0.85" opacity="1.0" fill="none"/>
<path d="M446.1 591.9H448.9M446.1 652.9H448.9" stroke="#0000ff" stroke-width="0.75" opacity="0.75" fill="none"/>
<path d="M460.1 603.8V667" stroke="#0000ff" stroke-width="0.85" opacity="1.0" fill="none"/>
<path d="M458.7 603.8H461.5M458.7 667H461.5" stroke="#0000ff" stroke-width="0.75" opacity="0.75" fill="none"/>
<path d="M501.9 573.2V630.4" stroke="#0000ff" stroke-width="1.3" opacity="0.4" fill="none"/>
<path d="M500.5 573.2H503.3M500.5 630.4H503.3" stroke="#0000ff" stroke-width="0.75" opacity="0.3" fill="none"/>
<path d="M543.4 566.25V624.25" stroke="#0000ff" stroke-width="0.85" opacity="1.0" fill="none"/>
<path d="M542 566.25H544.8M542 624.25H544.8" stroke="#0000ff" stroke-width="0.75" opacity="0.75" fill="none"/>
<path d="M585.6 540.2V601.2" stroke="#0000ff" stroke-width="0.85" opacity="1.0" fill="none"/>
<path d="M584.2 540.2H587M584.2 601.2H587" stroke="#0000ff" stroke-width="0.75" opacity="0.75" fill="none"/>
<path d="M627.4 525.3V597.3" stroke="#0000ff" stroke-width="1.3" opacity="0.4" fill="none"/>
<path d="M626 525.3H628.8M626 597.3H628.8" stroke="#0000ff" stroke-width="0.75" opacity="0.3" fill="none"/>
<polyline points="438.7,622.4 447.5,622.4 460.1,635.4 501.9,601.8 543.4,595.25 585.6,570.7 627.4,561.3" stroke="#0000ff" stroke-width="1.1" fill="none" stroke-linejoin="round"/>
<circle cx="438.7" cy="622.4" r="1.45" fill="#0000ff" stroke="#000" stroke-width="0.3"/>
<circle cx="447.5" cy="622.4" r="1.45" fill="#0000ff" stroke="#000" stroke-width="0.3"/>
<circle cx="460.1" cy="635.4" r="1.45" fill="#0000ff" stroke="#000" stroke-width="0.3"/>
<circle cx="501.9" cy="601.8" r="1.45" fill="#0000ff" stroke="#000" stroke-width="0.3"/>
<circle cx="543.4" cy="595.25" r="1.45" fill="#0000ff" stroke="#000" stroke-width="0.3"/>
<circle cx="585.6" cy="570.7" r="1.45" fill="#0000ff" stroke="#000" stroke-width="0.3"/>
<circle cx="627.4" cy="561.3" r="1.45" fill="#0000ff" stroke="#000" stroke-width="0.3"/>
<path d="M438.7 539.6V609.6" stroke="#000000" stroke-width="1.3" opacity="0.4" fill="none"/>
<path d="M437.3 539.6H440.1M437.3 609.6H440.1" stroke="#000000" stroke-width="0.75" opacity="0.3" fill="none"/>
<path d="M447.5 539.6V609.6" stroke="#000000" stroke-width="0.85" opacity="1.0" fill="none"/>
<path d="M446.1 539.6H448.9M446.1 609.6H448.9" stroke="#000000" stroke-width="0.75" opacity="0.75" fill="none"/>
<path d="M460.1 521.3V583.7" stroke="#000000" stroke-width="0.85" opacity="1.0" fill="none"/>
<path d="M458.7 521.3H461.5M458.7 583.7H461.5" stroke="#000000" stroke-width="0.75" opacity="0.75" fill="none"/>
<path d="M501.9 523.1V608.1" stroke="#000000" stroke-width="1.3" opacity="0.4" fill="none"/>
<path d="M500.5 523.1H503.3M500.5 608.1H503.3" stroke="#000000" stroke-width="0.75" opacity="0.3" fill="none"/>
<path d="M543.4 519.4V566.8" stroke="#000000" stroke-width="0.85" opacity="1.0" fill="none"/>
<path d="M542 519.4H544.8M542 566.8H544.8" stroke="#000000" stroke-width="0.75" opacity="0.75" fill="none"/>
<path d="M585.6 531.7V559.5" stroke="#000000" stroke-width="0.85" opacity="1.0" fill="none"/>
<path d="M584.2 531.7H587M584.2 559.5H587" stroke="#000000" stroke-width="0.75" opacity="0.75" fill="none"/>
<path d="M627.4 521.2V560.6" stroke="#000000" stroke-width="1.3" opacity="0.4" fill="none"/>
<path d="M626 521.2H628.8M626 560.6H628.8" stroke="#000000" stroke-width="0.75" opacity="0.3" fill="none"/>
<polyline points="438.7,574.6 447.5,574.6 460.1,552.5 501.9,565.6 543.4,543.1 585.6,545.6 627.4,540.9" stroke="#000000" stroke-width="1.15" fill="none" stroke-dasharray="3 2.9" stroke-linejoin="round"/>
<path d="M437.18 573.38H440.22L438.7 576.12Z" fill="#000000"/>
<path d="M445.98 573.38H449.02L447.5 576.12Z" fill="#000000"/>
<path d="M458.58 551.28H461.62L460.1 554.02Z" fill="#000000"/>
<path d="M500.38 564.38H503.42L501.9 567.12Z" fill="#000000"/>
<path d="M541.88 541.88H544.92L543.4 544.62Z" fill="#000000"/>
<path d="M584.08 544.38H587.12L585.6 547.12Z" fill="#000000"/>
<path d="M625.88 539.68H628.92L627.4 542.42Z" fill="#000000"/>
</g>
<path d="M417.55 503H637.35" stroke="#707070" stroke-width="1.3" opacity="0.55"/>
<path d="M418.2 503.65V671.75" stroke="#707070" stroke-width="1.3" opacity="1"/>
<path d="M636.7 503.65V671.75" stroke="#707070" stroke-width="1.3" opacity="1"/>
<path d="M417.55 672.4H637.35" stroke="#707070" stroke-width="1.3" opacity="1"/>
<path d="M418.3 672.4v-2M418.3 503v2M454.65 672.4v-2M454.65 503v2M491 672.4v-2M491 503v2M527.35 672.4v-2M527.35 503v2M563.7 672.4v-2M563.7 503v2M600.05 672.4v-2M600.05 503v2M636.4 672.4v-2M636.4 503v2M418.2 672.2h2M636.7 672.2h-2M418.2 638.34h2M636.7 638.34h-2M418.2 604.48h2M636.7 604.48h-2M418.2 570.62h2M636.7 570.62h-2M418.2 536.76h2M636.7 536.76h-2M418.2 502.9h2M636.7 502.9h-2" stroke="#707070" stroke-width="0.8" fill="none"/>
<text x="418.3" y="679.6" class="tk" text-anchor="middle">0</text>
<text x="454.65" y="679.6" class="tk" text-anchor="middle">2</text>
<text x="491" y="679.6" class="tk" text-anchor="middle">4</text>
<text x="527.35" y="679.6" class="tk" text-anchor="middle">6</text>
<text x="563.7" y="679.6" class="tk" text-anchor="middle">8</text>
<text x="600.05" y="679.6" class="tk" text-anchor="middle">10</text>
<text x="636.4" y="679.6" class="tk" text-anchor="middle">12</text>
<text x="415.7" y="674" class="tk" text-anchor="end" dx="-0.4">0.3</text>
<text x="415.7" y="640.14" class="tk" text-anchor="end" dx="-0.4">0.4</text>
<text x="415.7" y="606.28" class="tk" text-anchor="end" dx="-0.4">0.5</text>
<text x="415.7" y="572.42" class="tk" text-anchor="end" dx="-0.4">0.6</text>
<text x="415.7" y="538.56" class="tk" text-anchor="end" dx="-0.4">0.7</text>
<text x="415.7" y="504.7" class="tk" text-anchor="end" dx="-0.4">0.8</text>
<text x="527.45" y="687.7" class="al" text-anchor="middle">Number of landmarks</text>
<text transform="translate(402.6,587.7) rotate(-90)" x="0" y="0" class="al" text-anchor="middle">Accuracy</text>
</g>
<text x="493.1" y="711.8" class="cap" textLength="13.7" lengthAdjust="spacingAndGlyphs">(f)</text>
<text x="512.8" y="711.8" class="cap" textLength="23" lengthAdjust="spacingAndGlyphs">LP3</text>
<g>
<clipPath id="clipg"><rect x="20.4" y="752.3" width="226.7" height="170.4"/></clipPath>
<g clip-path="url(#clipg)">
<path d="M36.5 857.9V911.3" stroke="#0000ff" stroke-width="0.85" opacity="1.0" fill="none"/>
<path d="M35.1 857.9H37.9M35.1 911.3H37.9" stroke="#0000ff" stroke-width="0.75" opacity="0.75" fill="none"/>
<path d="M45.3 860.2V909" stroke="#0000ff" stroke-width="0.85" opacity="1.0" fill="none"/>
<path d="M43.9 860.2H46.7M43.9 909H46.7" stroke="#0000ff" stroke-width="0.75" opacity="0.75" fill="none"/>
<path d="M53.4 852V908" stroke="#0000ff" stroke-width="1.3" opacity="0.4" fill="none"/>
<path d="M52 852H54.8M52 908H54.8" stroke="#0000ff" stroke-width="0.75" opacity="0.3" fill="none"/>
<path d="M65.6 839.2V885" stroke="#0000ff" stroke-width="1.3" opacity="0.4" fill="none"/>
<path d="M64.2 839.2H67M64.2 885H67" stroke="#0000ff" stroke-width="0.75" opacity="0.3" fill="none"/>
<path d="M107.2 776.3V832.5" stroke="#0000ff" stroke-width="1.3" opacity="0.4" fill="none"/>
<path d="M105.8 776.3H108.6M105.8 832.5H108.6" stroke="#0000ff" stroke-width="0.75" opacity="0.3" fill="none"/>
<path d="M148.4 776.1V828.1" stroke="#0000ff" stroke-width="1.5" opacity="0.55" fill="none"/>
<path d="M147 776.1H149.8M147 828.1H149.8" stroke="#0000ff" stroke-width="0.75" opacity="0.41" fill="none"/>
<path d="M190.4 766.5V826.5" stroke="#0000ff" stroke-width="1.5" opacity="0.55" fill="none"/>
<path d="M189 766.5H191.8M189 826.5H191.8" stroke="#0000ff" stroke-width="0.75" opacity="0.41" fill="none"/>
<path d="M232.2 766.5V807.7" stroke="#0000ff" stroke-width="1.3" opacity="0.4" fill="none"/>
<path d="M230.8 766.5H233.6M230.8 807.7H233.6" stroke="#0000ff" stroke-width="0.75" opacity="0.3" fill="none"/>
<polyline points="36.5,884.6 45.3,884.6 53.4,880 65.6,862.1 107.2,804.4 148.4,802.1 190.4,796.5 232.2,787.1" stroke="#0000ff" stroke-width="1.1" fill="none" stroke-linejoin="round"/>
<circle cx="36.5" cy="884.6" r="1.45" fill="#0000ff" stroke="#000" stroke-width="0.3"/>
<circle cx="45.3" cy="884.6" r="1.45" fill="#0000ff" stroke="#000" stroke-width="0.3"/>
<circle cx="53.4" cy="880" r="1.45" fill="#0000ff" stroke="#000" stroke-width="0.3"/>
<circle cx="65.6" cy="862.1" r="1.45" fill="#0000ff" stroke="#000" stroke-width="0.3"/>
<circle cx="107.2" cy="804.4" r="1.45" fill="#0000ff" stroke="#000" stroke-width="0.3"/>
<circle cx="148.4" cy="802.1" r="1.45" fill="#0000ff" stroke="#000" stroke-width="0.3"/>
<circle cx="190.4" cy="796.5" r="1.45" fill="#0000ff" stroke="#000" stroke-width="0.3"/>
<circle cx="232.2" cy="787.1" r="1.45" fill="#0000ff" stroke="#000" stroke-width="0.3"/>
<path d="M36.5 800.1V835.7" stroke="#000000" stroke-width="0.85" opacity="1.0" fill="none"/>
<path d="M35.1 800.1H37.9M35.1 835.7H37.9" stroke="#000000" stroke-width="0.75" opacity="0.75" fill="none"/>
<path d="M45.3 782.9V823.9" stroke="#000000" stroke-width="0.85" opacity="1.0" fill="none"/>
<path d="M43.9 782.9H46.7M43.9 823.9H46.7" stroke="#000000" stroke-width="0.75" opacity="0.75" fill="none"/>
<path d="M53.4 774.45V808.05" stroke="#000000" stroke-width="1.3" opacity="0.4" fill="none"/>
<path d="M52 774.45H54.8M52 808.05H54.8" stroke="#000000" stroke-width="0.75" opacity="0.3" fill="none"/>
<path d="M65.6 769.9V808.1" stroke="#000000" stroke-width="1.3" opacity="0.4" fill="none"/>
<path d="M64.2 769.9H67M64.2 808.1H67" stroke="#000000" stroke-width="0.75" opacity="0.3" fill="none"/>
<path d="M107.2 770V808" stroke="#000000" stroke-width="1.3" opacity="0.4" fill="none"/>
<path d="M105.8 770H108.6M105.8 808H108.6" stroke="#000000" stroke-width="0.75" opacity="0.3" fill="none"/>
<path d="M148.4 782.85V835.35" stroke="#000000" stroke-width="1.5" opacity="0.55" fill="none"/>
<path d="M147 782.85H149.8M147 835.35H149.8" stroke="#000000" stroke-width="0.75" opacity="0.41" fill="none"/>
<path d="M190.4 784.8V821.4" stroke="#000000" stroke-width="1.5" opacity="0.55" fill="none"/>
<path d="M189 784.8H191.8M189 821.4H191.8" stroke="#000000" stroke-width="0.75" opacity="0.41" fill="none"/>
<path d="M232.2 790.1V826.1" stroke="#000000" stroke-width="1.3" opacity="0.4" fill="none"/>
<path d="M230.8 790.1H233.6M230.8 826.1H233.6" stroke="#000000" stroke-width="0.75" opacity="0.3" fill="none"/>
<polyline points="36.5,817.9 45.3,803.4 53.4,791.25 65.6,789 107.2,789 148.4,809.1 190.4,803.1 232.2,808.1" stroke="#000000" stroke-width="1.15" fill="none" stroke-dasharray="3 2.9" stroke-linejoin="round"/>
<path d="M34.98 816.68H38.02L36.5 819.42Z" fill="#000000"/>
<path d="M43.78 802.18H46.82L45.3 804.92Z" fill="#000000"/>
<path d="M51.88 790.03H54.92L53.4 792.77Z" fill="#000000"/>
<path d="M64.08 787.78H67.12L65.6 790.52Z" fill="#000000"/>
<path d="M105.68 787.78H108.72L107.2 790.52Z" fill="#000000"/>
<path d="M146.88 807.88H149.92L148.4 810.62Z" fill="#000000"/>
<path d="M188.88 801.88H191.92L190.4 804.62Z" fill="#000000"/>
<path d="M230.68 806.88H233.72L232.2 809.62Z" fill="#000000"/>
</g>
<path d="M23.75 752.8H243.75" stroke="#707070" stroke-width="1.3" opacity="0.55"/>
<path d="M24.4 753.45V921.55" stroke="#707070" stroke-width="1.3" opacity="0.55"/>
<path d="M243.1 753.45V921.55" stroke="#707070" stroke-width="1.3" opacity="0.55"/>
<path d="M23.75 922.2H243.75" stroke="#707070" stroke-width="1.3" opacity="1"/>
<path d="M24.3 922.2v-2M24.3 752.8v2M60.7 922.2v-2M60.7 752.8v2M97.1 922.2v-2M97.1 752.8v2M133.5 922.2v-2M133.5 752.8v2M169.9 922.2v-2M169.9 752.8v2M206.3 922.2v-2M206.3 752.8v2M242.7 922.2v-2M242.7 752.8v2M24.4 922.2h2M243.1 922.2h-2M24.4 901.03h2M243.1 901.03h-2M24.4 879.86h2M243.1 879.86h-2M24.4 858.69h2M243.1 858.69h-2M24.4 837.52h2M243.1 837.52h-2M24.4 816.35h2M243.1 816.35h-2M24.4 795.18h2M243.1 795.18h-2M24.4 774.01h2M243.1 774.01h-2M24.4 752.84h2M243.1 752.84h-2" stroke="#707070" stroke-width="0.8" fill="none"/>
<text x="24.3" y="929.4" class="tk" text-anchor="middle">0</text>
<text x="60.7" y="929.4" class="tk" text-anchor="middle">5</text>
<text x="97.1" y="929.4" class="tk" text-anchor="middle">10</text>
<text x="133.5" y="929.4" class="tk" text-anchor="middle">15</text>
<text x="169.9" y="929.4" class="tk" text-anchor="middle">20</text>
<text x="206.3" y="929.4" class="tk" text-anchor="middle">25</text>
<text x="242.7" y="929.4" class="tk" text-anchor="middle">30</text>
<text x="21.9" y="924" class="tk" text-anchor="end" dx="-0.4">0.50</text>
<text x="21.9" y="902.83" class="tk" text-anchor="end" dx="-0.4">0.55</text>
<text x="21.9" y="881.66" class="tk" text-anchor="end" dx="-0.4">0.60</text>
<text x="21.9" y="860.49" class="tk" text-anchor="end" dx="-0.4">0.65</text>
<text x="21.9" y="839.32" class="tk" text-anchor="end" dx="-0.4">0.70</text>
<text x="21.9" y="818.15" class="tk" text-anchor="end" dx="-0.4">0.75</text>
<text x="21.9" y="796.98" class="tk" text-anchor="end" dx="-0.4">0.80</text>
<text x="21.9" y="775.81" class="tk" text-anchor="end" dx="-0.4">0.85</text>
<text x="21.9" y="754.64" class="tk" text-anchor="end" dx="-0.4">0.90</text>
<text x="133.75" y="937.5" class="al" text-anchor="middle">Number of landmarks</text>
<text transform="translate(4.6,837.5) rotate(-90)" x="0" y="0" class="al" text-anchor="middle">Accuracy</text>
<rect x="184" y="888.4" width="53.8" height="28.1" fill="#fff" stroke="#707070" stroke-width="1.2"/>
<path d="M190.2 895.1H202.6" stroke="#0000ff" stroke-width="0.8" opacity="0.45"/>
<path d="M196 908.2H198.8" stroke="#000" stroke-width="1"/>
<path d="M190.2 890.9V899.3M188.9 890.9H191.5M188.9 899.3H191.5" stroke="#0000ff" stroke-width="0.9" opacity="0.7"/>
<circle cx="190.2" cy="895.1" r="1.6" fill="#0000ff" stroke="#000" stroke-width="0.3"/>
<path d="M190.2 903.8V912.6M188.9 903.8H191.5" stroke="#000" stroke-width="0.9" opacity="0.75"/>
<path d="M188.6 906.9H191.8L190.2 909.8Z" fill="#000"/>
<path d="M202.6 890.9V899.3M201.3 890.9H203.9M201.3 899.3H203.9" stroke="#0000ff" stroke-width="0.9" opacity="0.7"/>
<circle cx="202.6" cy="895.1" r="1.6" fill="#0000ff" stroke="#000" stroke-width="0.3"/>
<path d="M202.6 903.8V912.6M201.3 903.8H203.9" stroke="#000" stroke-width="0.9" opacity="0.75"/>
<path d="M201 906.9H204.2L202.6 909.8Z" fill="#000"/>
<text x="212.6" y="897.7" class="lg">BBS</text>
<text x="212.6" y="911.1" class="lg">SLTS</text>
</g>
<text x="98.9" y="961.8" class="cap" textLength="15" lengthAdjust="spacingAndGlyphs">(g)</text>
<text x="120" y="961.8" class="cap" textLength="22" lengthAdjust="spacingAndGlyphs">LP4</text>
<g>
<clipPath id="cliph"><rect x="414.2" y="752.5" width="226.5" height="170.4"/></clipPath>
<g clip-path="url(#cliph)">
<path d="M430.25 876.7V914.7" stroke="#0000ff" stroke-width="1.3" opacity="0.4" fill="none"/>
<path d="M428.85 876.7H431.65M428.85 914.7H431.65" stroke="#0000ff" stroke-width="0.75" opacity="0.3" fill="none"/>
<path d="M438.7 848.2V910.6" stroke="#0000ff" stroke-width="1.3" opacity="0.4" fill="none"/>
<path d="M437.3 848.2H440.1M437.3 910.6H440.1" stroke="#0000ff" stroke-width="0.75" opacity="0.3" fill="none"/>
<path d="M447.5 803V856.4" stroke="#0000ff" stroke-width="1.5" opacity="0.55" fill="none"/>
<path d="M446.1 803H448.9M446.1 856.4H448.9" stroke="#0000ff" stroke-width="0.75" opacity="0.41" fill="none"/>
<path d="M459.7 784.85V839.65" stroke="#0000ff" stroke-width="1.5" opacity="0.55" fill="none"/>
<path d="M458.3 784.85H461.1M458.3 839.65H461.1" stroke="#0000ff" stroke-width="0.75" opacity="0.41" fill="none"/>
<path d="M501.5 767.5V814.3" stroke="#0000ff" stroke-width="1.5" opacity="0.55" fill="none"/>
<path d="M500.1 767.5H502.9M500.1 814.3H502.9" stroke="#0000ff" stroke-width="0.75" opacity="0.41" fill="none"/>
<path d="M543.1 782.2V809.6" stroke="#0000ff" stroke-width="1.5" opacity="0.55" fill="none"/>
<path d="M541.7 782.2H544.5M541.7 809.6H544.5" stroke="#0000ff" stroke-width="0.75" opacity="0.41" fill="none"/>
<path d="M584.7 777.2V824" stroke="#0000ff" stroke-width="0.85" opacity="1.0" fill="none"/>
<path d="M583.3 777.2H586.1M583.3 824H586.1" stroke="#0000ff" stroke-width="0.75" opacity="0.75" fill="none"/>
<path d="M626.5 774.2V815.8" stroke="#0000ff" stroke-width="1.5" opacity="0.55" fill="none"/>
<path d="M625.1 774.2H627.9M625.1 815.8H627.9" stroke="#0000ff" stroke-width="0.75" opacity="0.41" fill="none"/>
<polyline points="430.25,895.7 438.7,879.4 447.5,829.7 459.7,812.25 501.5,790.9 543.1,795.9 584.7,800.6 626.5,795" stroke="#0000ff" stroke-width="1.1" fill="none" stroke-linejoin="round"/>
<circle cx="430.25" cy="895.7" r="1.45" fill="#0000ff" stroke="#000" stroke-width="0.3"/>
<circle cx="438.7" cy="879.4" r="1.45" fill="#0000ff" stroke="#000" stroke-width="0.3"/>
<circle cx="447.5" cy="829.7" r="1.45" fill="#0000ff" stroke="#000" stroke-width="0.3"/>
<circle cx="459.7" cy="812.25" r="1.45" fill="#0000ff" stroke="#000" stroke-width="0.3"/>
<circle cx="501.5" cy="790.9" r="1.45" fill="#0000ff" stroke="#000" stroke-width="0.3"/>
<circle cx="543.1" cy="795.9" r="1.45" fill="#0000ff" stroke="#000" stroke-width="0.3"/>
<circle cx="584.7" cy="800.6" r="1.45" fill="#0000ff" stroke="#000" stroke-width="0.3"/>
<circle cx="626.5" cy="795" r="1.45" fill="#0000ff" stroke="#000" stroke-width="0.3"/>
<path d="M430.25 775.3V830.9" stroke="#000000" stroke-width="1.3" opacity="0.4" fill="none"/>
<path d="M428.85 775.3H431.65M428.85 830.9H431.65" stroke="#000000" stroke-width="0.75" opacity="0.3" fill="none"/>
<path d="M438.7 777.3V819.5" stroke="#000000" stroke-width="1.3" opacity="0.4" fill="none"/>
<path d="M437.3 777.3H440.1M437.3 819.5H440.1" stroke="#000000" stroke-width="0.75" opacity="0.3" fill="none"/>
<path d="M447.5 776.6V841.6" stroke="#000000" stroke-width="0.85" opacity="1.0" fill="none"/>
<path d="M446.1 776.6H448.9M446.1 841.6H448.9" stroke="#000000" stroke-width="0.75" opacity="0.75" fill="none"/>
<path d="M459.7 765V806.2" stroke="#000000" stroke-width="0.85" opacity="1.0" fill="none"/>
<path d="M458.3 765H461.1M458.3 806.2H461.1" stroke="#000000" stroke-width="0.75" opacity="0.75" fill="none"/>
<path d="M501.5 763V820.2" stroke="#000000" stroke-width="0.85" opacity="1.0" fill="none"/>
<path d="M500.1 763H502.9M500.1 820.2H502.9" stroke="#000000" stroke-width="0.75" opacity="0.75" fill="none"/>
<path d="M543.1 789V822.8" stroke="#000000" stroke-width="0.85" opacity="1.0" fill="none"/>
<path d="M541.7 789H544.5M541.7 822.8H544.5" stroke="#000000" stroke-width="0.75" opacity="0.75" fill="none"/>
<path d="M584.7 777.6V823.6" stroke="#000000" stroke-width="0.85" opacity="1.0" fill="none"/>
<path d="M583.3 777.6H586.1M583.3 823.6H586.1" stroke="#000000" stroke-width="0.75" opacity="0.75" fill="none"/>
<path d="M626.5 773.4V800.8" stroke="#000000" stroke-width="0.85" opacity="1.0" fill="none"/>
<path d="M625.1 773.4H627.9M625.1 800.8H627.9" stroke="#000000" stroke-width="0.75" opacity="0.75" fill="none"/>
<polyline points="430.25,803.1 438.7,798.4 447.5,809.1 459.7,785.6 501.5,791.6 543.1,805.9 584.7,800.6 626.5,787.1" stroke="#000000" stroke-width="1.15" fill="none" stroke-dasharray="3 2.9" stroke-linejoin="round"/>
<path d="M428.73 801.88H431.77L430.25 804.62Z" fill="#000000"/>
<path d="M437.18 797.18H440.22L438.7 799.92Z" fill="#000000"/>
<path d="M445.98 807.88H449.02L447.5 810.62Z" fill="#000000"/>
<path d="M458.18 784.38H461.22L459.7 787.12Z" fill="#000000"/>
<path d="M499.98 790.38H503.02L501.5 793.12Z" fill="#000000"/>
<path d="M541.58 804.68H544.62L543.1 807.42Z" fill="#000000"/>
<path d="M583.18 799.38H586.22L584.7 802.12Z" fill="#000000"/>
<path d="M624.98 785.88H628.02L626.5 788.62Z" fill="#000000"/>
</g>
<path d="M417.55 753H637.35" stroke="#707070" stroke-width="1.3" opacity="0.55"/>
<path d="M418.2 753.65V921.75" stroke="#707070" stroke-width="1.3" opacity="1"/>
<path d="M636.7 753.65V921.75" stroke="#707070" stroke-width="1.3" opacity="0.55"/>
<path d="M417.55 922.4H637.35" stroke="#707070" stroke-width="1.3" opacity="1"/>
<path d="M418.3 922.4v-2M418.3 753v2M444.3 922.4v-2M444.3 753v2M470.3 922.4v-2M470.3 753v2M496.3 922.4v-2M496.3 753v2M522.3 922.4v-2M522.3 753v2M548.3 922.4v-2M548.3 753v2M574.3 922.4v-2M574.3 753v2M600.3 922.4v-2M600.3 753v2M626.3 922.4v-2M626.3 753v2M418.2 917.8h2M636.7 917.8h-2M418.2 897.17h2M636.7 897.17h-2M418.2 876.55h2M636.7 876.55h-2M418.2 855.92h2M636.7 855.92h-2M418.2 835.3h2M636.7 835.3h-2M418.2 814.67h2M636.7 814.67h-2M418.2 794.05h2M636.7 794.05h-2M418.2 773.42h2M636.7 773.42h-2M418.2 752.8h2M636.7 752.8h-2" stroke="#707070" stroke-width="0.8" fill="none"/>
<text x="418.3" y="929.6" class="tk" text-anchor="middle">0</text>
<text x="444.3" y="929.6" class="tk" text-anchor="middle">5</text>
<text x="470.3" y="929.6" class="tk" text-anchor="middle">10</text>
<text x="496.3" y="929.6" class="tk" text-anchor="middle">15</text>
<text x="522.3" y="929.6" class="tk" text-anchor="middle">20</text>
<text x="548.3" y="929.6" class="tk" text-anchor="middle">25</text>
<text x="574.3" y="929.6" class="tk" text-anchor="middle">30</text>
<text x="600.3" y="929.6" class="tk" text-anchor="middle">35</text>
<text x="626.3" y="929.6" class="tk" text-anchor="middle">40</text>
<text x="415.7" y="919.6" class="tk" text-anchor="end" dx="-0.4">0.30</text>
<text x="415.7" y="898.97" class="tk" text-anchor="end" dx="-0.4">0.35</text>
<text x="415.7" y="878.35" class="tk" text-anchor="end" dx="-0.4">0.40</text>
<text x="415.7" y="857.72" class="tk" text-anchor="end" dx="-0.4">0.45</text>
<text x="415.7" y="837.1" class="tk" text-anchor="end" dx="-0.4">0.50</text>
<text x="415.7" y="816.47" class="tk" text-anchor="end" dx="-0.4">0.55</text>
<text x="415.7" y="795.85" class="tk" text-anchor="end" dx="-0.4">0.60</text>
<text x="415.7" y="775.22" class="tk" text-anchor="end" dx="-0.4">0.65</text>
<text x="415.7" y="754.6" class="tk" text-anchor="end" dx="-0.4">0.70</text>
<text x="527.45" y="937.7" class="al" text-anchor="middle">Number of landmarks</text>
<text transform="translate(398.4,837.7) rotate(-90)" x="0" y="0" class="al" text-anchor="middle">Accuracy</text>
</g>
<text x="491.5" y="961.8" class="cap" textLength="16.4" lengthAdjust="spacingAndGlyphs">(h)</text>
<text x="513.9" y="961.8" class="cap" textLength="23" lengthAdjust="spacingAndGlyphs">LP5</text>
</svg>
</body></html>
